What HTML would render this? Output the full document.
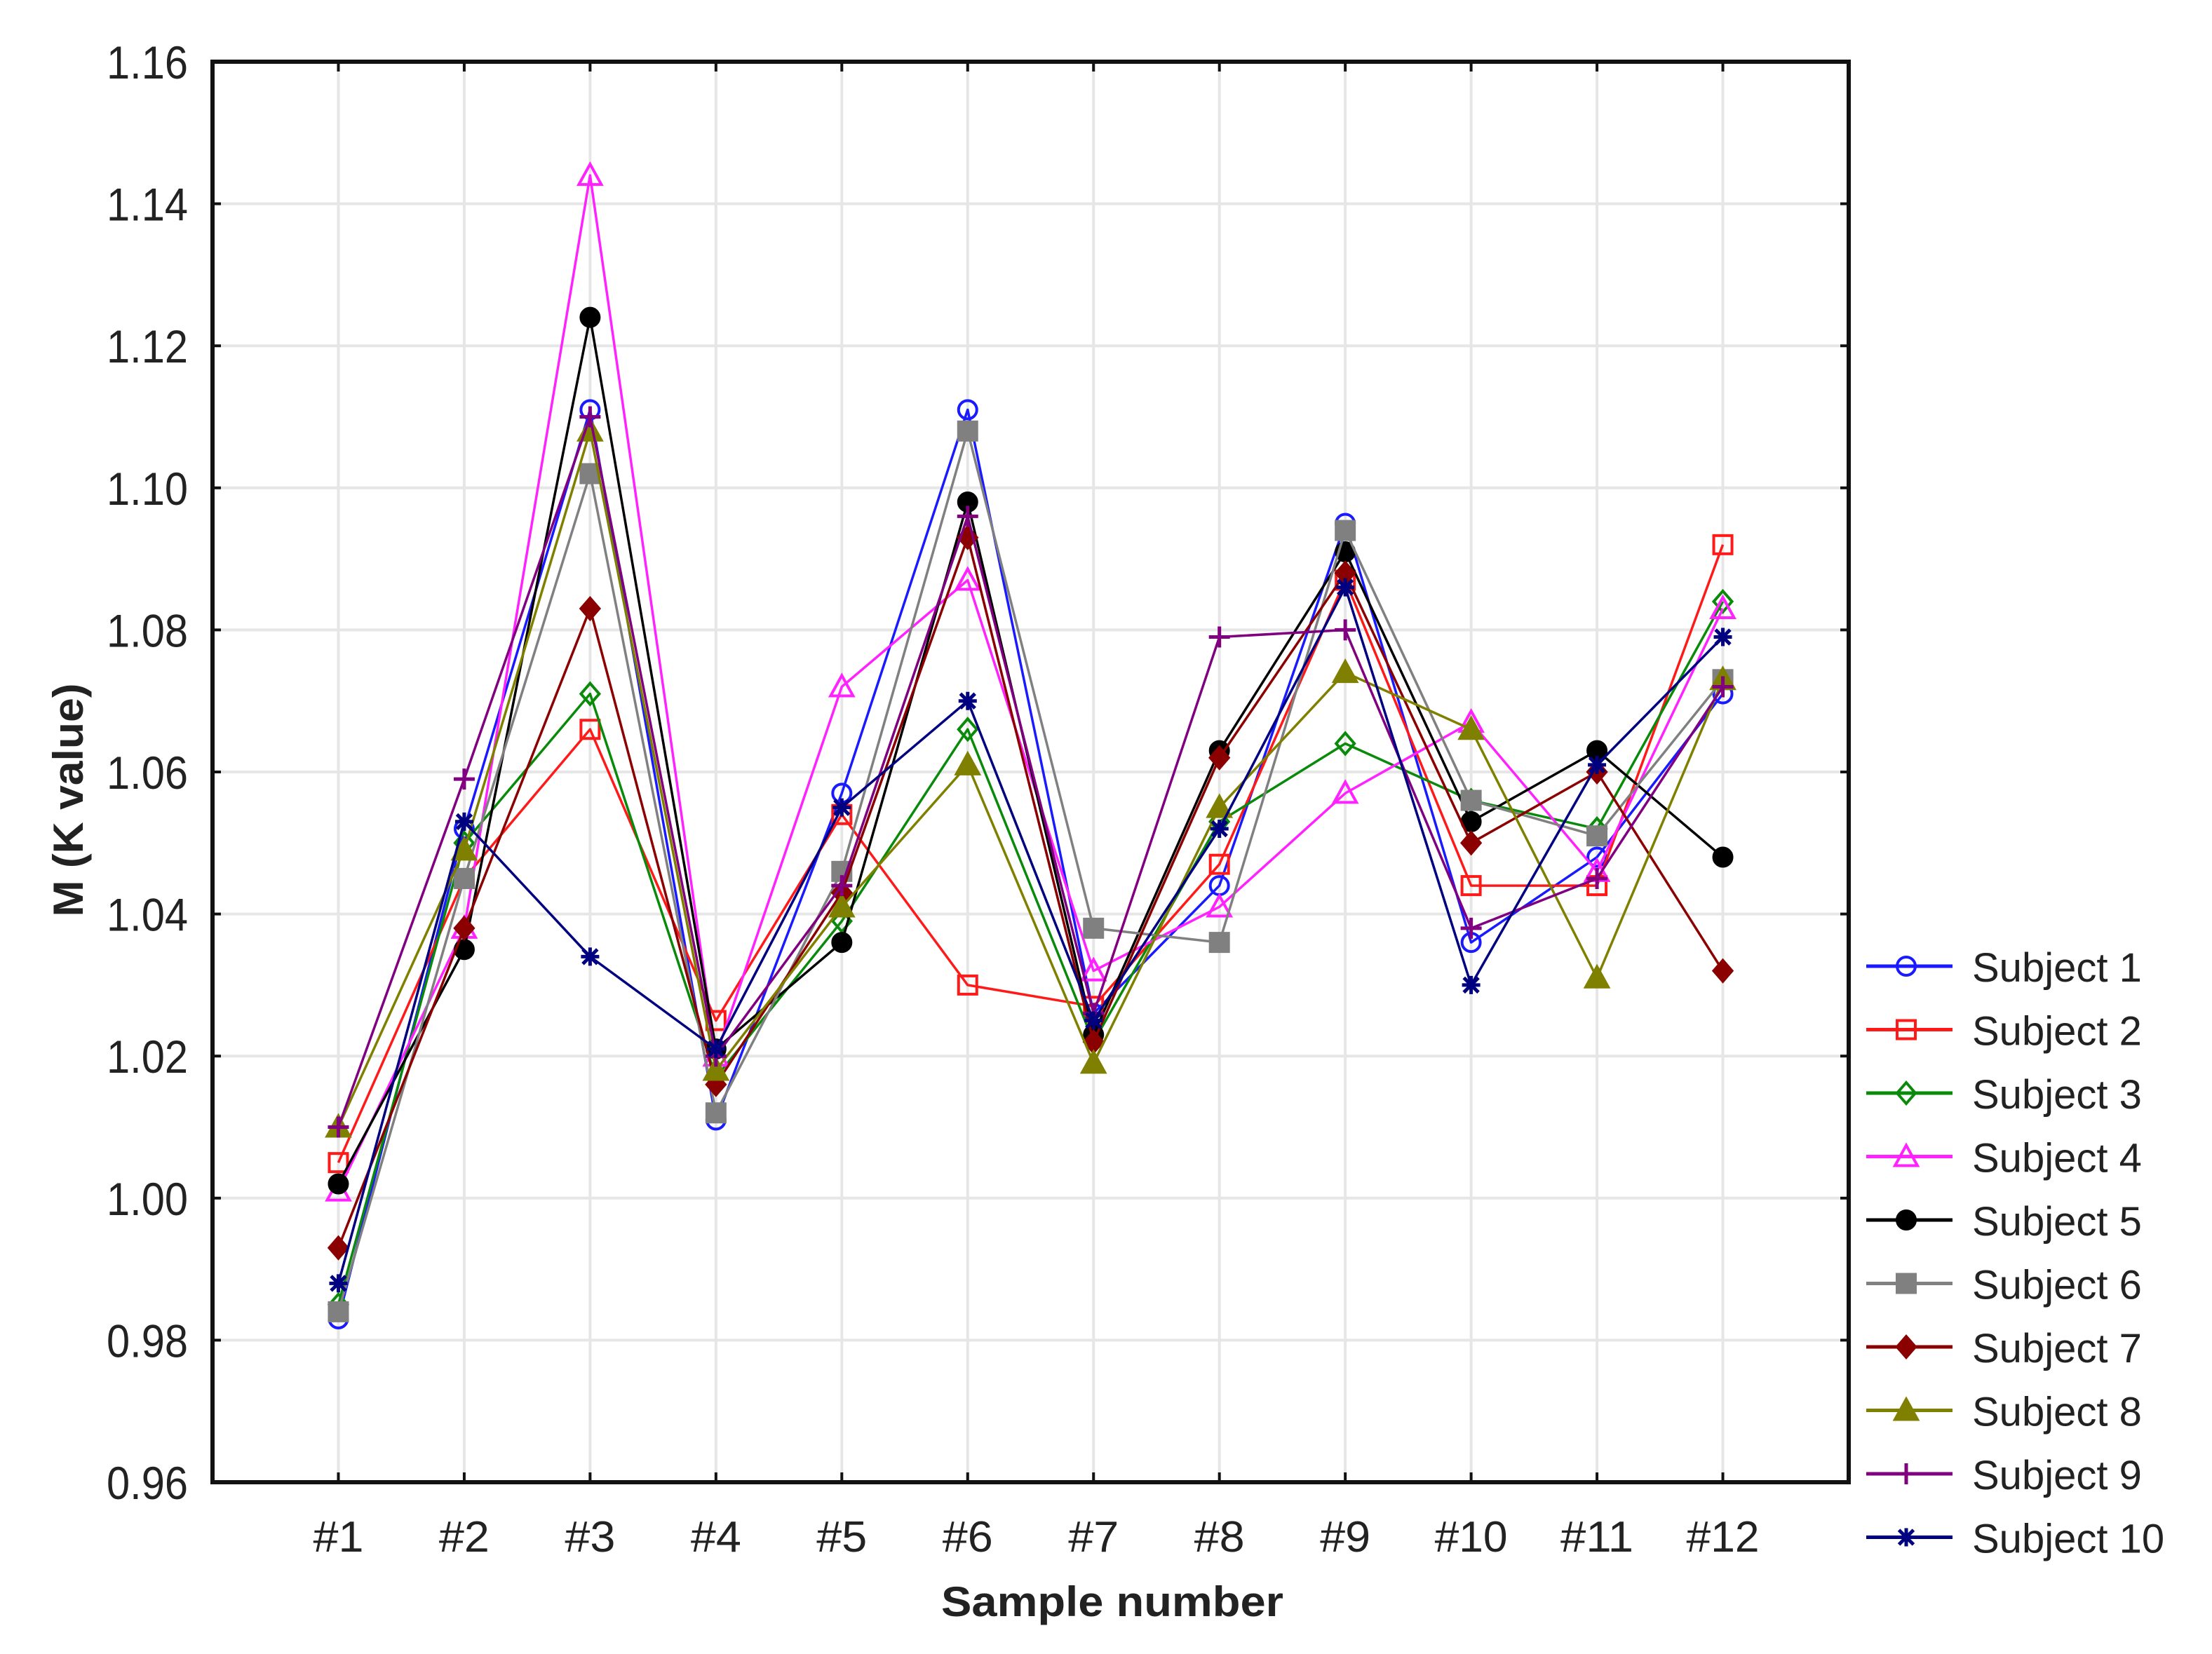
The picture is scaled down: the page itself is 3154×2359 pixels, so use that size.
<!DOCTYPE html>
<html><head><meta charset="utf-8"><style>
html,body{margin:0;padding:0;background:#fff;}
svg{display:block;}
text{font-family:"Liberation Sans",sans-serif;fill:#222;}
</style></head><body>
<svg id="chart" width="3154" height="2359" viewBox="0 0 3154 2359" xmlns="http://www.w3.org/2000/svg">
<g id="grid"></g>
<g id="series"></g>
<g id="axes"></g>
<g id="legend"></g>
</svg>
<script>
const categories = ["#1","#2","#3","#4","#5","#6","#7","#8","#9","#10","#11","#12"];
const yTicks = [0.96,0.98,1.00,1.02,1.04,1.06,1.08,1.10,1.12,1.14,1.16];
const yTickLabels = ["0.96","0.98","1.00","1.02","1.04","1.06","1.08","1.10","1.12","1.14","1.16"];
const seriesNames = ["Subject 1","Subject 2","Subject 3","Subject 4","Subject 5","Subject 6","Subject 7","Subject 8","Subject 9","Subject 10"];
const s1 = [0.983,1.052,1.111,1.011,1.057,1.111,1.026,1.044,1.095,1.036,1.048,1.071];
const s2 = [1.005,1.045,1.066,1.025,1.054,1.030,1.027,1.047,1.087,1.044,1.044,1.092];
const s3 = [0.985,1.050,1.071,1.017,1.039,1.066,1.022,1.053,1.064,1.056,1.052,1.084];
const s4 = [1.001,1.038,1.144,1.020,1.072,1.087,1.032,1.041,1.057,1.067,1.046,1.083];
const s5 = [1.002,1.035,1.124,1.021,1.036,1.098,1.023,1.063,1.091,1.053,1.063,1.048];
const s6 = [0.984,1.045,1.102,1.012,1.046,1.108,1.038,1.036,1.094,1.056,1.051,1.073];
const s7 = [0.993,1.038,1.083,1.016,1.043,1.093,1.022,1.062,1.088,1.050,1.060,1.032];
const s8 = [1.010,1.049,1.108,1.018,1.041,1.061,1.019,1.055,1.074,1.066,1.031,1.073];
const s9 = [1.010,1.059,1.110,1.020,1.044,1.096,1.026,1.079,1.080,1.038,1.045,1.072];
const s10 = [0.988,1.053,1.034,1.021,1.055,1.070,1.025,1.052,1.086,1.030,1.061,1.079];

const NS="http://www.w3.org/2000/svg";
const L=303,R=2636,T=88,B=2114, yMin=0.96,yMax=1.16;
const step=(R-L)/(categories.length+1);
function xPos(i){return L+(i+1)*step;}
function yPos(v){return B-(v-yMin)/(yMax-yMin)*(B-T);}
function mk(tag,attrs,parent){const e=document.createElementNS(NS,tag);for(const k in attrs)e.setAttribute(k,attrs[k]);parent.appendChild(e);return e;}

const styles=[
 {c:"#1a1aff",m:"circle",f:false},
 {c:"#ff1a1a",m:"square",f:false},
 {c:"#0a8a0a",m:"diamond",f:false},
 {c:"#ff22ff",m:"triangle",f:false},
 {c:"#000000",m:"circle",f:true},
 {c:"#808080",m:"square",f:true},
 {c:"#8b0000",m:"diamond",f:true},
 {c:"#808000",m:"triangle",f:true},
 {c:"#800080",m:"plus",f:false},
 {c:"#000080",m:"star",f:false}
];
const allSeries=[s1,s2,s3,s4,s5,s6,s7,s8,s9,s10];

const grid=document.getElementById('grid');
const axes=document.getElementById('axes');
yTicks.forEach((v,i)=>{
  const y=yPos(v);
  const gl=mk('line',{x1:L,x2:R,y1:y,y2:y,stroke:'#e6e6e6','stroke-width':4},grid);
  
  
  mk('line',{x1:L,x2:L+12,y1:y,y2:y,stroke:'#111','stroke-width':4},axes);
  mk('line',{x1:R-12,x2:R,y1:y,y2:y,stroke:'#111','stroke-width':4},axes);
  const t=mk('text',{x:268,y:y+24,'text-anchor':'end','font-size':66,textLength:116,lengthAdjust:'spacingAndGlyphs'},axes);
  t.textContent=yTickLabels[i];
  
  
});
categories.forEach((c,i)=>{
  const x=xPos(i);
  const gl=mk('line',{x1:x,x2:x,y1:T,y2:B,stroke:'#e6e6e6','stroke-width':4},grid);
  
  
  mk('line',{x1:x,x2:x,y1:B-14,y2:B,stroke:'#111','stroke-width':4},axes);
  mk('line',{x1:x,x2:x,y1:T,y2:T+14,stroke:'#111','stroke-width':4},axes);
  const t=mk('text',{x:x,y:2213,'text-anchor':'middle','font-size':62,textLength:(c.length>2?104:72),lengthAdjust:'spacingAndGlyphs'},axes);
  t.textContent=c;
  
  
});
const frame=mk('rect',{x:L,y:T,width:R-L,height:B-T,fill:'none',stroke:'#111','stroke-width':6},axes);


const xt=mk('text',{x:1586,y:2305,'text-anchor':'middle','font-size':60,'font-weight':'bold',textLength:488,lengthAdjust:'spacingAndGlyphs'},axes);
xt.textContent="Sample number";


const yt=mk('text',{x:0,y:0,'text-anchor':'middle','font-size':60,'font-weight':'bold',transform:'translate(118,1141) rotate(-90)',textLength:333,lengthAdjust:'spacingAndGlyphs'},axes);
yt.textContent="M (K value)";



function marker(st,x,y,parent){
  const sw=4, r=13;
  const fill=st.f?st.c:'none';
  let e;
  if(st.m==='circle') e=mk('circle',{cx:x,cy:y,r:r,fill:st.f?st.c:'#fff','fill-opacity':st.f?1:0,stroke:st.c,'stroke-width':sw},parent);
  else if(st.m==='square') e=mk('rect',{x:x-r,y:y-r,width:2*r,height:2*r,fill:fill,stroke:st.c,'stroke-width':sw},parent);
  else if(st.m==='diamond') e=mk('polygon',{points:`${x},${y-r-2} ${x+r},${y} ${x},${y+r+2} ${x-r},${y}`,fill:fill,stroke:st.c,'stroke-width':sw},parent);
  else if(st.m==='triangle') e=mk('polygon',{points:`${x},${y-r-3} ${x+r+3},${y+r} ${x-r-3},${y+r}`,fill:fill,stroke:st.c,'stroke-width':sw},parent);
  else if(st.m==='plus') e=mk('path',{d:`M${x-r-2},${y}H${x+r+2}M${x},${y-r-2}V${y+r+2}`,stroke:st.c,'stroke-width':sw+1,fill:'none'},parent);
  else e=mk('path',{d:`M${x-r},${y}H${x+r}M${x},${y-r}V${y+r}M${x-r*0.8},${y-r*0.8}L${x+r*0.8},${y+r*0.8}M${x-r*0.8},${y+r*0.8}L${x+r*0.8},${y-r*0.8}`,stroke:st.c,'stroke-width':sw+1,fill:'none'},parent);
  return e;
}

const sg=document.getElementById('series');
allSeries.forEach((data,si)=>{
  const st=styles[si];
  const g=mk('g',{},sg);
  
  
  const pts=data.map((v,i)=>xPos(i)+','+yPos(v)).join(' ');
  const pl=mk('polyline',{points:pts,fill:'none',stroke:st.c,'stroke-width':3.5,'stroke-linejoin':'round'},g);
  
  
  data.forEach((v,i)=>{
    const m=marker(st,xPos(i),yPos(v),g);
    
    
  });
});

const lg=document.getElementById('legend');
seriesNames.forEach((n,i)=>{
  const y=1378+i*90.5;
  const st=styles[i];
  const g=mk('g',{},lg);
  
  
  mk('line',{x1:2661,x2:2784,y1:y,y2:y,stroke:st.c,'stroke-width':5},g);
  marker(st,2718,y,g);
  const t=mk('text',{x:2812,y:y+22,'font-size':58,fill:'#333'},g);
  t.textContent=n;
  
  
});
</script>
</body></html>
